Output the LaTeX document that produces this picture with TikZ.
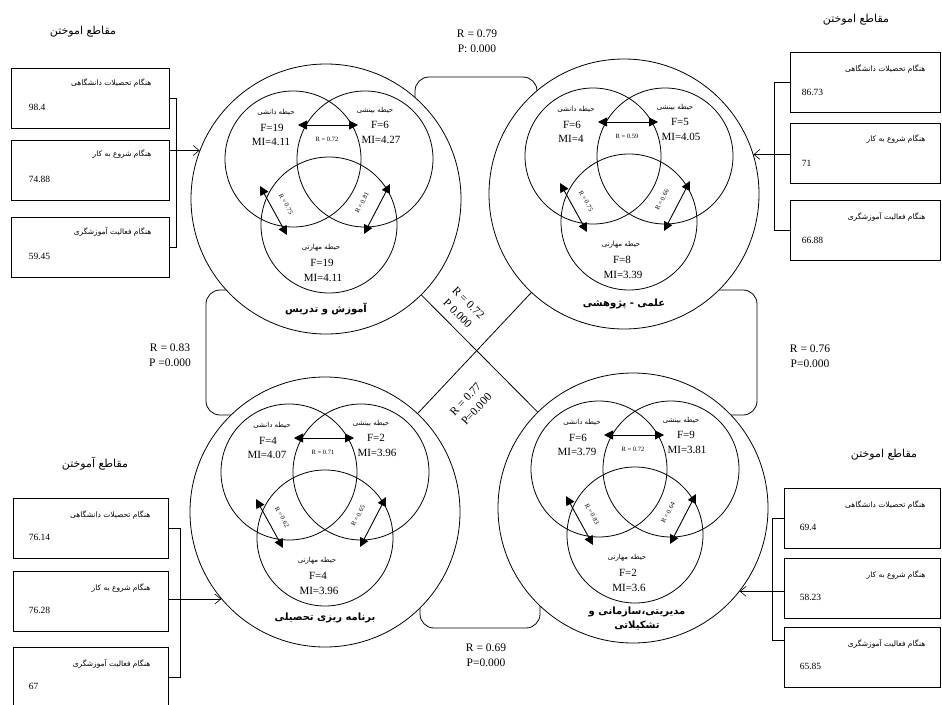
\documentclass[tikz,border=0pt]{standalone}
\usepackage{fontspec}
\setmainfont{Liberation Serif}
\newfontfamily\fa[Script=Arabic]{DejaVu Sans}
\TeXXeTstate=1
\usetikzlibrary{arrows.meta,calc}
\newcommand\fat[1]{{\fa\beginR #1\endR}}
\tikzset{
  outer/.style={circle, draw, line width=0.8pt, fill=white, minimum size=270pt, inner sep=0pt},
  vc/.style={circle, draw, line width=0.8pt, minimum size=136pt, inner sep=0pt},
  rel/.style={line width=0.9pt, {Triangle[length=9pt,width=9pt]}-{Triangle[length=9pt,width=9pt]}},
  conn/.style={line width=0.8pt, rounded corners=14pt},
  box/.style={draw, line width=0.9pt, inner sep=0pt, minimum height=60pt},
  lab/.style={font=\fontsize{7}{8}\selectfont, inner sep=0pt},
  num/.style={font=\fontsize{11}{12}\selectfont, inner sep=0pt},
  rlab/.style={font=\fontsize{6.5}{7}\selectfont, inner sep=0pt},
  ttl/.style={font=\fontsize{10}{14}\selectfont\bfseries, inner sep=0pt, align=center},
  head/.style={font=\fontsize{11}{12}\selectfont, inner sep=0pt},
  btxt/.style={font=\fontsize{7.5}{8}\selectfont, inner sep=0pt},
  bnum/.style={font=\fontsize{9.5}{10}\selectfont, inner sep=0pt},
  stat/.style={font=\fontsize{11.5}{15}\selectfont, inner sep=0pt, align=center},
  arr/.style={line width=0.6pt, -{Straight Barb[length=6pt,width=10pt]}},
  brk/.style={line width=0.6pt},
}
% Venn skeleton, placed inside a shifted scope; #1 = name prefix
\newcommand\venn[1]{%
  \node[vc] (#1a) at (-36,-22) {};
  \node[vc] (#1b) at (36,-22) {};
  \node[vc] (#1c) at (0,44) {};
  \coordinate (#1t1) at (-31,-56); \coordinate (#1t2) at (29,-56);
  \coordinate (#1l1) at (-69,5);   \coordinate (#1l2) at (-42,54);
  \coordinate (#1r1) at (61,3);    \coordinate (#1r2) at (35,53);
  \draw[rel] (#1t1) -- (#1t2);
  \draw[rel] (#1l1) -- (#1l2);
  \draw[rel] (#1r1) -- (#1r2);
  \node[lab] (#1la) at (-53,-69) {\fat{حیطه دانشی}};
  \node[lab] (#1lb) at (46,-71) {\fat{حیطه بینشی}};
  \node[lab] (#1lc) at (-8,67) {\fat{حیطه مهارتی}};
}
% values: prefix in \vp ; F1 MI1 F2 MI2 F3 MI3 Rtop Rleft Rright
\newcommand\vvals[9]{%
  \node[num] (\vp f1) at (-57,-53) {F=#1};
  \node[num] (\vp m1) at (-58,-39) {MI=#2};
  \node[num] (\vp f2) at (51,-56) {F=#3};
  \node[num] (\vp m2) at (52,-41) {MI=#4};
  \node[num] (\vp f3) at (-7,82) {F=#5};
  \node[num] (\vp m3) at (-6,97) {MI=#6};
  \node[rlab] (\vp rt) at (-2,-42) {R = #7};
  \node[rlab, rotate=-61] (\vp rl) at (-43,23) {R = #8};
  \node[rlab, rotate=62] (\vp rr) at (33,22) {R = #9};
}
\begin{document}
\begin{tikzpicture}[x=1pt,y=-1pt]
\useasboundingbox (0,0) rectangle (942,704);
% centres of the four outer circles
\coordinate (ctl) at (326,199);
\coordinate (ctr) at (624,194);
\coordinate (cbl) at (325,512);
\coordinate (cbr) at (633,508);
% diagonal links
\draw[line width=0.8pt] (ctl) -- (cbr);
\draw[line width=0.8pt] (ctr) -- (cbl);
% rounded bridges between circles
\draw[conn] ($(ctl)+(89,-49)$) -- (415,77) -- (537,77) -- ($(ctr)+(-87,-44)$);
\draw[conn] ($(ctl)+(-26,91)$) -- (206,290) -- (206,415) -- ($(cbl)+(-25,-97)$);
\draw[conn] ($(ctr)+(26,96)$) -- (757,290) -- (757,415) -- ($(cbr)+(17,-93)$);
\draw[conn] ($(cbl)+(95,48)$) -- (420,628) -- (540,628) -- ($(cbr)+(-93,52)$);
% outer circles
\node[outer] (tl) at (ctl) {};
\node[outer] (tr) at (ctr) {};
\node[outer] (bl) at (cbl) {};
\node[outer] (br) at (cbr) {};
% Venn diagrams
\begin{scope}[shift={(329,181)}]
  \venn{tlv}\def\vp{tlv}\vvals{19}{4.11}{6}{4.27}{19}{4.11}{0.72}{0.75}{0.81}
\end{scope}
\begin{scope}[shift={(629,178)}]
  \venn{trv}\def\vp{trv}\vvals{6}{4}{5}{4.05}{8}{3.39}{0.59}{0.75}{0.66}
\end{scope}
\begin{scope}[shift={(325,494)}]
  \venn{blv}\def\vp{blv}\vvals{4}{4.07}{2}{3.96}{4}{3.96}{0.71}{0.62}{0.65}
\end{scope}
\begin{scope}[shift={(635,491)}]
  \venn{brv}\def\vp{brv}\vvals{6}{3.79}{9}{3.81}{2}{3.6}{0.72}{0.83}{0.64}
\end{scope}
% titles
\node[ttl] (tlt) at ($(ctl)+(0,110)$) {\fat{آموزش و تدریس}};
\node[ttl] (trt) at ($(ctr)+(0,110)$) {\fat{علمی - پژوهشی}};
\node[ttl] (blt) at ($(cbl)+(0,106)$) {\fat{برنامه ریزی تحصیلی}};
\node[ttl] (brt) at ($(cbr)+(4,111)$) {\fat{مدیریتی،سازمانی و}\\\fat{تشکیلاتی}};
% statistics
\node[stat] (st) at (477,41) {R = 0.79\\P: 0.000};
\node[stat] (sl) at (170,355) {R = 0.83\\P =0.000};
\node[stat] (sr) at (810,356) {R = 0.76\\P=0.000};
\node[stat] (sb) at (486,655) {R = 0.69\\P=0.000};
\node[stat, rotate=-45] (sx1) at (463,308) {R = 0.72\\P 0.000};
\node[stat, rotate=47] (sx2) at (471,404) {R = 0.77\\P=0.000};
% headers
\node[head] (htl) at (83,32) {\fat{مقاطع اموختن}};
\node[head] (htr) at (856,20) {\fat{مقاطع اموختن}};
\node[head] (hbl) at (95,464) {\fat{مقاطع آموختن}};
\node[head] (hbr) at (884,455) {\fat{مقاطع اموختن}};
% boxes: top-left
\foreach \n/\y/\v/\t in {1/98/98.4/{هنگام تحصیلات دانشگاهی},2/170/74.88/{هنگام شروع به کار},3/247/59.45/{هنگام فعالیت آموزشگری}}{
  \node[box, minimum width=158pt] (tlb\n) at (90,\y) {};
  \node[btxt, anchor=east] (tlbt\n) at ($(tlb\n.north east)+(-18,15)$) {\fat{\t}};
  \node[bnum, anchor=west] (tlbn\n) at ($(tlb\n.north west)+(18,40)$) {\v};
}
% boxes: top-right
\foreach \n/\y/\v/\t in {1/82/86.73/{هنگام تحصیلات دانشگاهی},2/153/71/{هنگام شروع به کار},3/230/66.88/{هنگام فعالیت آموزشگری}}{
  \node[box, minimum width=150pt] (trb\n) at (865,\y) {};
  \node[btxt, anchor=east] (trbt\n) at ($(trb\n.north east)+(-15,17)$) {\fat{\t}};
  \node[bnum, anchor=west] (trbn\n) at ($(trb\n.north west)+(12,41)$) {\v};
}
% boxes: bottom-left
\foreach \n/\y/\v/\t in {1/528/76.14/{هنگام تحصیلات دانشگاهی},2/601/76.28/{هنگام شروع به کار},3/677/67/{هنگام فعالیت آموزشگری}}{
  \node[box, minimum width=155pt] (blb\n) at (90.5,\y) {};
  \node[btxt, anchor=east] (blbt\n) at ($(blb\n.north east)+(-18,17)$) {\fat{\t}};
  \node[bnum, anchor=west] (blbn\n) at ($(blb\n.north west)+(16,40)$) {\v};
}
% boxes: bottom-right
\foreach \n/\y/\v/\t in {1/518/69.4/{هنگام تحصیلات دانشگاهی},2/588/58.23/{هنگام شروع به کار},3/657/65.85/{هنگام فعالیت آموزشگری}}{
  \node[box, minimum width=156pt] (brb\n) at (862,\y) {};
  \node[btxt, anchor=east] (brbt\n) at ($(brb\n.north east)+(-15,17)$) {\fat{\t}};
  \node[bnum, anchor=west] (brbn\n) at ($(brb\n.north west)+(16,40)$) {\v};
}
% brackets
\draw[brk] (tlb1.east) -- ++(7,0) |- (tlb3.east);
\draw[brk] (trb1.west) -- ++(-15,0) |- (trb3.west);
\draw[brk] (blb1.east) -- ++(12,0) |- (blb3.east);
\draw[brk] (brb1.west) -- ++(-11,0) |- ([yshift=17pt]brb3.west);
% arrows to circles
\draw[arr] (tl.159.6 -| tlb2.east) -- (tl.159.6);
\draw[arr] (tr.17.6 -| trb2.west) -- (tr.17.6);
\draw[arr] (bl.220.3 -| blb2.east) -- (bl.220.3);
\draw[arr] (br.322.5 -| brb2.west) -- (br.322.5);
\end{tikzpicture}
\end{document}
